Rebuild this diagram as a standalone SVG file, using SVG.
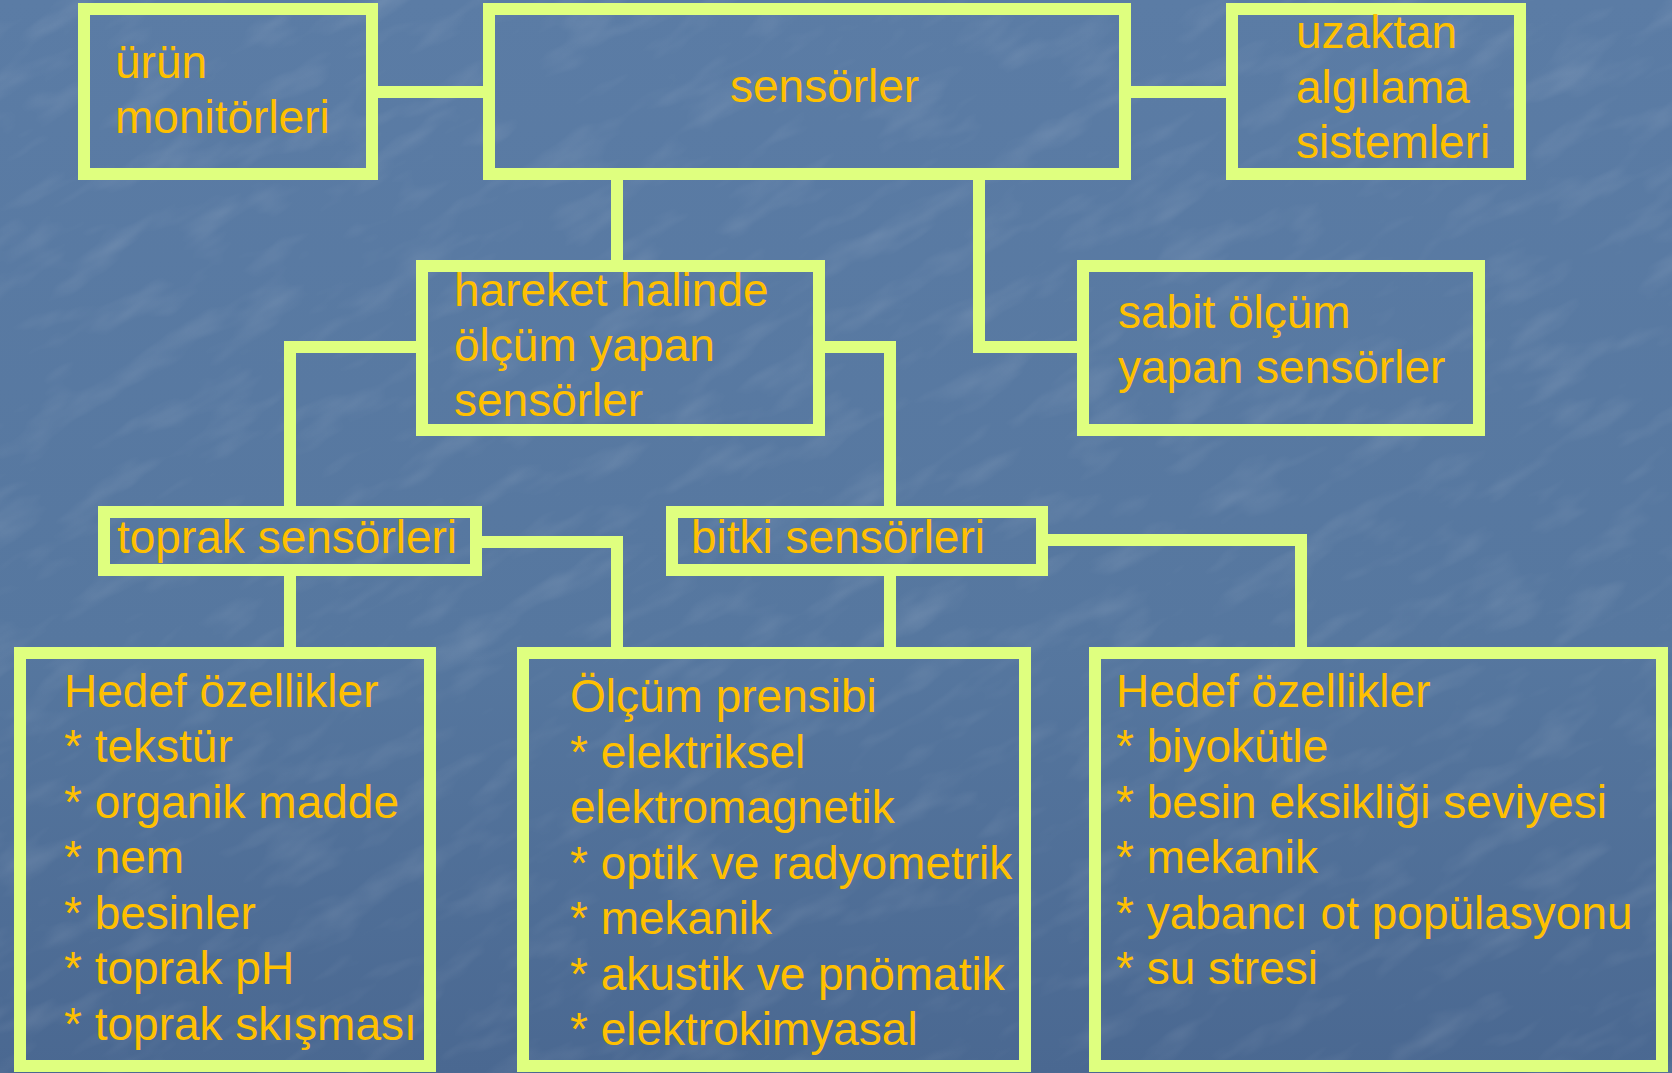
<svg xmlns="http://www.w3.org/2000/svg" width="1672" height="1073" viewBox="0 0 1672 1073">
  <defs>
    <linearGradient id="bg" x1="0" y1="0" x2="0" y2="1">
      <stop offset="0" stop-color="#5b7ca5"/>
      <stop offset="0.6" stop-color="#56779f"/>
      <stop offset="1" stop-color="#4a6891"/>
    </linearGradient>
    <filter id="tex" x="0" y="0" width="100%" height="100%">
      <feTurbulence type="fractalNoise" baseFrequency="0.012 0.035" numOctaves="3" seed="4" result="n"/>
      <feColorMatrix type="matrix" values="0 0 0 0 1  0 0 0 0 1  0 0 0 0 1  0 0 0.9 0 -0.45"/>
    </filter>
    <style>
      .box { fill: none; stroke: #dfff7f; stroke-width: 12; }
      .con { fill: none; stroke: #dfff7f; stroke-width: 12; stroke-linejoin: miter; }
      .t { font-family: "Liberation Sans", Arial, sans-serif; font-size: 46px; fill: #ffc000; }
    </style>
  </defs>
  <rect width="1672" height="1073" fill="url(#bg)"/>
  <g transform="rotate(-30 836 536)">
    <rect x="-400" y="-400" width="2472" height="1873" filter="url(#tex)" opacity="0.25"/>
  </g>

  <g id="connectors">
    <line class="con" x1="376" y1="92" x2="485" y2="92"/>
    <line class="con" x1="1129" y1="92" x2="1228" y2="92"/>
    <line class="con" x1="617" y1="178" x2="617" y2="262"/>
    <polyline class="con" points="979,178 979,347 1079,347"/>
    <polyline class="con" points="418,347 290,347 290,508"/>
    <polyline class="con" points="823,347 890,347 890,508"/>
    <line class="con" x1="290" y1="574" x2="290" y2="649"/>
    <polyline class="con" points="480,542 617,542 617,649"/>
    <line class="con" x1="890" y1="574" x2="890" y2="649"/>
    <polyline class="con" points="1046,540 1301,540 1301,649"/>
  </g>

  <g id="urun-monitorleri">
    <rect class="box" x="84" y="9" width="288" height="165"/>
    <text class="t" x="115" y="78">ürün</text>
    <text class="t" x="115" y="133">monitörleri</text>
  </g>
  <g id="sensorler">
    <rect class="box" x="489" y="9" width="636" height="165"/>
    <text class="t" x="730" y="102">sensörler</text>
  </g>
  <g id="uzaktan-algilama">
    <rect class="box" x="1232" y="9" width="288" height="165"/>
    <text class="t" x="1296" y="48">uzaktan</text>
    <text class="t" x="1296" y="103">algılama</text>
    <text class="t" x="1296" y="158">sistemleri</text>
  </g>
  <g id="hareket-halinde">
    <rect class="box" x="422" y="266" width="397" height="164"/>
    <text class="t" x="454" y="306">hareket halinde</text>
    <text class="t" x="454" y="361">ölçüm yapan</text>
    <text class="t" x="454" y="416">sensörler</text>
  </g>
  <g id="sabit-olcum">
    <rect class="box" x="1083" y="266" width="396" height="164"/>
    <text class="t" x="1118" y="328">sabit ölçüm</text>
    <text class="t" x="1118" y="383">yapan sensörler</text>
  </g>
  <g id="toprak-sensorleri">
    <rect class="box" x="104" y="512" width="372" height="58"/>
    <text class="t" x="117" y="553">toprak sensörleri</text>
  </g>
  <g id="bitki-sensorleri">
    <rect class="box" x="672" y="512" width="370" height="58"/>
    <text class="t" x="691" y="553">bitki sensörleri</text>
  </g>
  <g id="toprak-hedef">
    <rect class="box" x="20" y="653" width="410" height="413"/>
    <text class="t" x="64" y="707">Hedef özellikler</text>
    <text class="t" x="64" y="762">* tekstür</text>
    <text class="t" x="64" y="818">* organik madde</text>
    <text class="t" x="64" y="873">* nem</text>
    <text class="t" x="64" y="929">* besinler</text>
    <text class="t" x="64" y="984">* toprak pH</text>
    <text class="t" x="64" y="1040">* toprak skışması</text>
  </g>
  <g id="olcum-prensibi">
    <rect class="box" x="523" y="653" width="502" height="413"/>
    <text class="t" x="570" y="712">Ölçüm prensibi</text>
    <text class="t" x="570" y="768">* elektriksel</text>
    <text class="t" x="570" y="823">elektromagnetik</text>
    <text class="t" x="570" y="879">* optik ve radyometrik</text>
    <text class="t" x="570" y="934">* mekanik</text>
    <text class="t" x="570" y="990">* akustik ve pnömatik</text>
    <text class="t" x="570" y="1045">* elektrokimyasal</text>
  </g>
  <g id="bitki-hedef">
    <rect class="box" x="1095" y="653" width="567" height="413"/>
    <text class="t" x="1116" y="707">Hedef özellikler</text>
    <text class="t" x="1116" y="762">* biyokütle</text>
    <text class="t" x="1116" y="818">* besin eksikliği seviyesi</text>
    <text class="t" x="1116" y="873">* mekanik</text>
    <text class="t" x="1116" y="929">* yabancı ot popülasyonu</text>
    <text class="t" x="1116" y="984">* su stresi</text>
  </g>
</svg>
